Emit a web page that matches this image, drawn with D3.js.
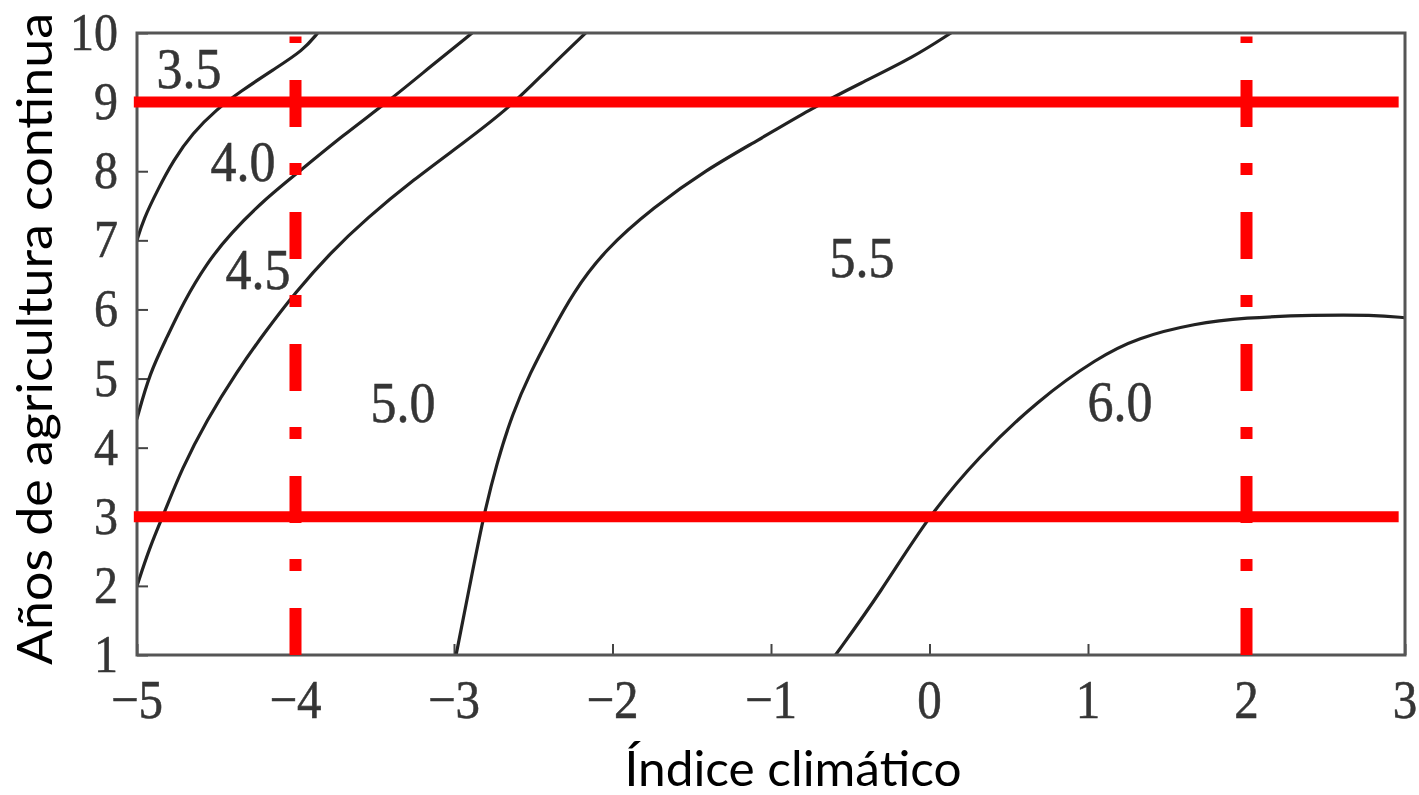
<!DOCTYPE html>
<html>
<head>
<meta charset="utf-8">
<script src="https://cdn.jsdelivr.net/npm/d3@7"></script>
<style>
  html, body { margin: 0; padding: 0; background: #fff; }
  svg { display: block; }
  .num { font-family: "Liberation Serif", "Times New Roman", serif; fill: #353535; stroke: #353535; stroke-width: 0.5px; }
  .title { font-family: Lato, "Open Sans", sans-serif; fill: #000; }
</style>
</head>
<body>
<svg id="chart" width="1419" height="795"></svg>
<script>
// Axis ticks
const xTicks = [-5, -4, -3, -2, -1, 0, 1, 2, 3];
const yTicks = [1, 2, 3, 4, 5, 6, 7, 8, 9, 10];

// Isolines (climatic index, years of continuous farming)
const iso35 = [[-5, 7.0], [-4.96, 7.30], [-4.87, 7.73], [-4.77, 8.16], [-4.65, 8.55], [-4.50, 8.89],
  [-4.35, 9.15], [-4.14, 9.47], [-3.95, 9.75], [-3.86, 10]];
const iso40 = [[-5, 4.42], [-4.92, 5.08], [-4.81, 5.60], [-4.71, 6.09], [-4.56, 6.67], [-4.41, 7.10],
  [-4.20, 7.58], [-3.99, 7.97], [-3.70, 8.52], [-3.42, 9.0], [-3.15, 9.51], [-2.886, 10]];
const iso45 = [[-5, 2.0], [-4.92, 2.56], [-4.82, 3.10], [-4.72, 3.68], [-4.56, 4.40], [-4.37, 5.10],
  [-4.20, 5.65], [-4.0, 6.25], [-3.78, 6.82], [-3.55, 7.32], [-3.26, 7.87], [-2.94, 8.41],
  [-2.65, 8.92], [-2.42, 9.45], [-2.17, 10]];
const iso50 = [[-2.987, 1], [-2.90, 2.01], [-2.815, 3.0], [-2.73, 3.78], [-2.63, 4.50], [-2.52, 5.08],
  [-2.39, 5.65], [-2.25, 6.24], [-2.05, 6.86], [-1.74, 7.48], [-1.41, 8.02], [-1.08, 8.45],
  [-0.76, 8.89], [-0.43, 9.28], [-0.10, 9.65], [0.135, 10]];
const iso60 = [[-0.593, 1], [-0.31, 1.9], [-0.01, 3.0], [0.31, 3.87], [0.685, 4.69], [1.06, 5.30],
  [1.31, 5.59], [1.68, 5.80], [1.98, 5.88], [2.43, 5.92], [2.80, 5.92], [3.0, 5.88]];
const isolines = [iso35, iso40, iso45, iso50, iso60];

// Region values and where they sit (data coordinates)
const regionLevels = ["3.5", "4.0", "4.5", "5.0", "5.5", "6.0"];
const regionIndex = [-4.672, -4.331, -4.237, -3.322, -0.426, 1.202];
const regionYears = [9.48, 8.13, 6.57, 4.65, 6.75, 4.66];

// Highlighted reference values
const refYears = [3, 9];
const refYearsSpan = [-5.02, 2.96];
const refIndex = [-4, 2];
const refIndexSpan = [1, 9.95];

const svg = d3.select("#chart");
const margin = { left: 137, right: 14, top: 33, bottom: 140 };
const W = 1419, H = 795;

const x = d3.scaleLinear().domain([-5, 3]).range([margin.left, W - margin.right]);
const y = d3.scaleLinear().domain([1, 10]).range([H - margin.bottom, margin.top]);

svg.append("defs").append("clipPath").attr("id", "plot-clip")
  .append("rect")
  .attr("x", x(-5)).attr("y", y(10))
  .attr("width", x(3) - x(-5)).attr("height", y(1) - y(10));

// Inward ticks
const gx = svg.append("g").attr("transform", `translate(0,${y(1)})`)
  .call(d3.axisBottom(x).tickValues(xTicks).tickSize(-11).tickFormat(""));
const gy = svg.append("g").attr("transform", `translate(${x(-5)},0)`)
  .call(d3.axisLeft(y).tickValues(yTicks).tickSize(-11).tickFormat(""));
[gx, gy].forEach(g => {
  g.select(".domain").remove();
  g.selectAll(".tick line").attr("stroke", "#444").attr("stroke-width", 2);
});

// Isolines
const line = d3.line().x(d => x(d[0])).y(d => y(d[1])).curve(d3.curveBasis);
svg.append("g").attr("clip-path", "url(#plot-clip)")
  .selectAll("path").data(isolines).join("path")
  .attr("d", line)
  .attr("fill", "none")
  .attr("stroke", "#222")
  .attr("stroke-width", 3.2)
  .attr("stroke-linecap", "round");

// Frame
svg.append("rect")
  .attr("x", x(-5)).attr("y", y(10))
  .attr("width", x(3) - x(-5)).attr("height", y(1) - y(10))
  .attr("fill", "none").attr("stroke", "#555").attr("stroke-width", 3);

// Region labels
svg.append("g").selectAll("text").data(regionLevels).join("text")
  .attr("class", "num")
  .attr("transform", (d, i) => `translate(${x(regionIndex[i])},${y(regionYears[i]) + 19}) scale(1,1.1)`)
  .attr("text-anchor", "middle")
  .style("font-size", "52px")
  .text(d => d);

// Tick labels
const fmt = v => (v < 0 ? "\u2212" + Math.abs(v) : String(v));
svg.append("g").selectAll("text").data(xTicks).join("text")
  .attr("class", "num")
  .attr("transform", d => `translate(${x(d)},${y(1) + 63}) scale(1,1.13)`)
  .attr("text-anchor", "middle")
  .style("font-size", "49px")
  .text(fmt);
svg.append("g").selectAll("text").data(yTicks).join("text")
  .attr("class", "num")
  .attr("transform", d => `translate(${x(-5) - 19},${y(d) + 17}) scale(1,1.08)`)
  .attr("text-anchor", "end")
  .style("font-size", "48px")
  .text(fmt);

// Reference lines: years (solid) and climatic index (dash-dot)
svg.append("g").selectAll("line").data(refYears).join("line")
  .attr("x1", x(refYearsSpan[0])).attr("x2", x(refYearsSpan[1]))
  .attr("y1", d => y(d)).attr("y2", d => y(d))
  .attr("stroke", "#ff0000").attr("stroke-width", 11);
svg.append("g").selectAll("line").data(refIndex).join("line")
  .attr("x1", d => x(d)).attr("x2", d => x(d))
  .attr("y1", y(refIndexSpan[0])).attr("y2", y(refIndexSpan[1]))
  .attr("stroke", "#ff0000").attr("stroke-width", 12)
  .attr("stroke-dasharray", "47,37,12,36");

// Axis titles
svg.append("text")
  .attr("class", "title")
  .attr("x", 793).attr("y", 786)
  .attr("text-anchor", "middle")
  .style("font-size", "48px")
  .attr("textLength", 337).attr("lengthAdjust", "spacingAndGlyphs")
  .text("Índice climático");
svg.append("text")
  .attr("class", "title")
  .attr("transform", "translate(52,339) rotate(-90)")
  .attr("text-anchor", "middle")
  .style("font-size", "48px")
  .attr("textLength", 652).attr("lengthAdjust", "spacingAndGlyphs")
  .text("Años de agricultura continua");
</script>
</body>
</html>
